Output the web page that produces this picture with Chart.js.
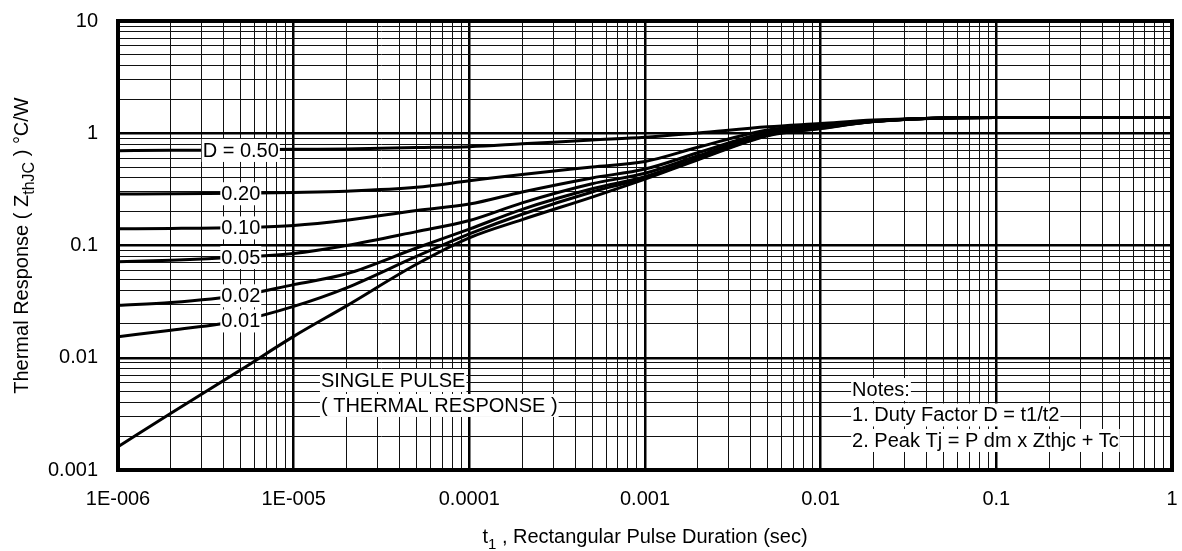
<!DOCTYPE html>
<html>
<head>
<meta charset="utf-8">
<script src="https://cdn.jsdelivr.net/npm/chart.js@4.4.1/dist/chart.umd.min.js"></script>
<style>
  html, body { margin: 0; padding: 0; background: #fff; }
</style>
</head>
<body>
<canvas id="grafico" width="1182" height="551"></canvas>
<script>
// Duracion del pulso t1 (s) y respuesta termica Zthjc (°C/W)
const duracion = [1e-6, 2e-6, 5e-6, 1e-5, 2e-5, 5e-5, 1e-4, 2e-4, 5e-4, 1e-3, 2e-3, 5e-3, 1e-2, 2e-2, 5e-2, 0.1, 1];
const zD050 = [0.70, 0.705, 0.71, 0.72, 0.725, 0.745, 0.76, 0.805, 0.87, 0.92, 1.005, 1.14, 1.22, 1.31, 1.37, 1.38, 1.38];
const zD020 = [0.288, 0.289, 0.292, 0.297, 0.305, 0.33, 0.377, 0.43, 0.50, 0.56, 0.75, 1.07, 1.17, 1.29, 1.37, 1.38, 1.38];
const zD010 = [0.141, 0.142, 0.145, 0.151, 0.168, 0.205, 0.234, 0.30, 0.40, 0.48, 0.67, 1.02, 1.14, 1.28, 1.37, 1.38, 1.38];
const zD005 = [0.0718, 0.074, 0.079, 0.085, 0.10, 0.133, 0.167, 0.24, 0.355, 0.44, 0.63, 0.99, 1.13, 1.28, 1.37, 1.38, 1.38];
const zD002 = [0.0293, 0.031, 0.036, 0.0448, 0.056, 0.095, 0.14, 0.21, 0.32, 0.41, 0.60, 0.97, 1.12, 1.27, 1.37, 1.38, 1.38];
const zD001 = [0.0154, 0.0176, 0.0215, 0.0287, 0.042, 0.08, 0.127, 0.19, 0.30, 0.40, 0.59, 0.96, 1.11, 1.27, 1.37, 1.38, 1.38];
const zPulsoUnico = [0.00161, 0.0032, 0.0078, 0.0155, 0.029, 0.068, 0.117, 0.17, 0.27, 0.39, 0.58, 0.95, 1.10, 1.27, 1.37, 1.38, 1.38];

const etiquetasCurvas = ['D = 0.50', '0.20', '0.10', '0.05', '0.02', '0.01'];
const tEtiquetas = 5e-6;

const xTickLabels = ['1E-006', '1E-005', '0.0001', '0.001', '0.01', '0.1', '1'];
const yTickLabels = ['0.001', '0.01', '0.1', '1', '10'];

const textoPulso = ['SINGLE PULSE', '( THERMAL RESPONSE )'];
const textoNotas = ['Notes:', '1. Duty Factor D = t1/t2', '2. Peak Tj = P dm x Zthjc + Tc'];

const FUENTE = "'Liberation Sans', Arial, sans-serif";

function esDecada(v) {
    const l = Math.log10(v);
    return Math.abs(l - Math.round(l)) < 1e-9;
}

function ticksLog(minExp, maxExp) {
    const ticks = [];
    for (let e = minExp; e < maxExp; e++) {
        for (let k = 1; k <= 9; k++) {
            ticks.push({ value: Number((k * Math.pow(10, e)).toPrecision(10)) });
        }
    }
    ticks.push({ value: Math.pow(10, maxExp) });
    return ticks;
}

const series = [zD050, zD020, zD010, zD005, zD002, zD001, zPulsoUnico];
const datasets = series.map(s => ({
    data: duracion.map((t, i) => ({ x: t, y: s[i] })),
    borderColor: '#000',
    borderWidth: 3,
    pointRadius: 0,
    fill: false,
    cubicInterpolationMode: 'monotone'
}));

// Caja blanca con texto encima
function textoConFondo(ctx, texto, x, yCentro, align) {
    const w = ctx.measureText(texto).width;
    const x0 = align === 'center' ? x - w / 2 : x;
    ctx.fillStyle = '#fff';
    ctx.fillRect(x0 - 1, yCentro - 11, w + 2, 23);
    ctx.fillStyle = '#000';
    ctx.textAlign = 'left';
    ctx.textBaseline = 'alphabetic';
    ctx.fillText(texto, x0, yCentro + 7);
}

// Texto con partes en subindice, centrado en (cx, base)
function textoSub(ctx, partes, cx, base) {
    let total = 0;
    partes.forEach(p => {
        ctx.font = `${p.size}px ${FUENTE}`;
        p.w = ctx.measureText(p.t).width;
        total += p.w;
    });
    let x = cx - total / 2;
    ctx.textAlign = 'left';
    ctx.textBaseline = 'alphabetic';
    ctx.fillStyle = '#000';
    partes.forEach(p => {
        ctx.font = `${p.size}px ${FUENTE}`;
        ctx.fillText(p.t, x, base + p.dy);
        x += p.w;
    });
}

const anotaciones = {
    id: 'anotaciones',
    afterDatasetsDraw(chart) {
        const ctx = chart.ctx;
        const xs = chart.scales.x, ys = chart.scales.y;
        const area = chart.chartArea;
        ctx.save();
        ctx.font = `20px ${FUENTE}`;

        // etiquetas de cada curva D
        const idx = duracion.indexOf(tEtiquetas);
        etiquetasCurvas.forEach((txt, i) => {
            const px = xs.getPixelForValue(duracion[idx]);
            const py = ys.getPixelForValue(series[i][idx]);
            textoConFondo(ctx, txt, px, py, 'center');
        });

        // pulso unico
        let px = xs.getPixelForValue(1.43e-5);
        let py = ys.getPixelForValue(0.00634);
        textoPulso.forEach((txt, i) => textoConFondo(ctx, txt, px, py + i * 25, 'left'));

        // notas
        px = xs.getPixelForValue(0.0151);
        py = ys.getPixelForValue(0.00527);
        textoNotas.forEach((txt, i) => textoConFondo(ctx, txt, px, py + i * 25.5, 'left'));

        // marco
        ctx.strokeStyle = '#000';
        ctx.lineWidth = 4;
        ctx.strokeRect(area.left, area.top, area.right - area.left, area.bottom - area.top);

        // titulos de ejes
        textoSub(ctx, [
            { t: 't', size: 20, dy: 0 },
            { t: '1', size: 15, dy: 6 },
            { t: ' , Rectangular Pulse Duration (sec)', size: 20, dy: 0 }
        ], (area.left + area.right) / 2, 543);

        ctx.translate(28, (area.top + area.bottom) / 2);
        ctx.rotate(-Math.PI / 2);
        textoSub(ctx, [
            { t: 'Thermal Response ( Z', size: 20, dy: 0 },
            { t: 'thJC', size: 16, dy: 6 },
            { t: ' ) °C/W', size: 20, dy: 0 }
        ], 0, 0);
        ctx.restore();
    }
};

new Chart(document.getElementById('grafico').getContext('2d'), {
    type: 'line',
    data: { datasets },
    options: {
        responsive: false,
        animation: false,
        layout: { padding: { top: 21, right: 10, left: 0, bottom: 0 } },
        plugins: {
            legend: { display: false },
            tooltip: { enabled: false }
        },
        scales: {
            x: {
                type: 'logarithmic',
                min: 1e-6,
                max: 1,
                afterBuildTicks: s => { s.ticks = ticksLog(-6, 0); },
                afterFit: s => { s.height = 81; s.paddingLeft = 0; s.paddingRight = 0; },
                border: { display: false },
                grid: {
                    drawTicks: false,
                    color: ctx => ctx.tick && esDecada(ctx.tick.value) ? '#000' : '#111',
                    lineWidth: ctx => ctx.tick && esDecada(ctx.tick.value) ? 2.5 : 1
                },
                ticks: {
                    autoSkip: false,
                    maxRotation: 0,
                    minRotation: 0,
                    padding: 17,
                    color: '#000',
                    font: { family: FUENTE, size: 20 },
                    callback: v => esDecada(v) ? xTickLabels[Math.round(Math.log10(v)) + 6] : ''
                }
            },
            y: {
                type: 'logarithmic',
                min: 0.001,
                max: 10,
                afterBuildTicks: s => { s.ticks = ticksLog(-3, 1); },
                afterFit: s => { s.width = 118; s.paddingTop = 0; s.paddingBottom = 0; },
                border: { display: false },
                grid: {
                    drawTicks: false,
                    color: ctx => ctx.tick && esDecada(ctx.tick.value) ? '#000' : '#111',
                    lineWidth: ctx => ctx.tick && esDecada(ctx.tick.value) ? 2.5 : 1
                },
                ticks: {
                    autoSkip: false,
                    padding: 20,
                    color: '#000',
                    font: { family: FUENTE, size: 20 },
                    callback: v => esDecada(v) ? yTickLabels[Math.round(Math.log10(v)) + 3] : ''
                }
            }
        }
    },
    plugins: [anotaciones]
});
</script>
</body>
</html>
